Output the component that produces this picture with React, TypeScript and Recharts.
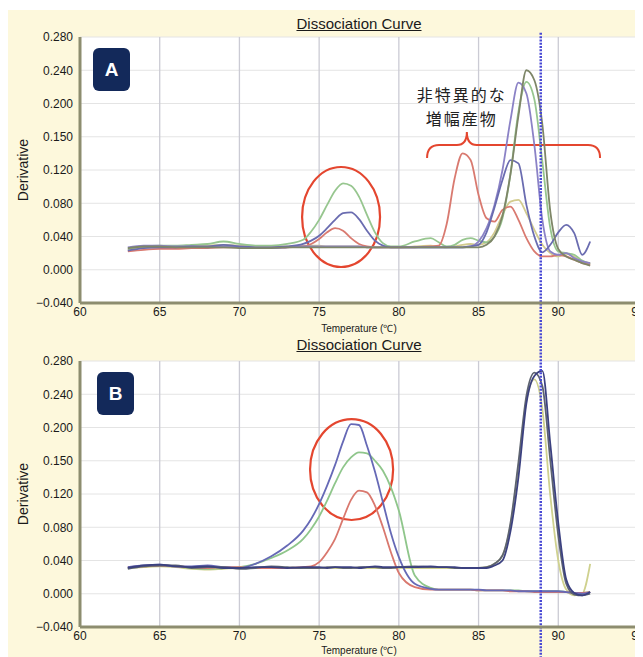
import { LineChart, Line, XAxis, YAxis, CartesianGrid, ReferenceLine, ReferenceArea } from "recharts";

// melt temperatures (°C), shared by every series of a panel
const temps = [
  63, 64, 65, 66, 67, 68, 69, 70, 71, 72, 73, 74,
  74.5, 75, 75.5, 76, 76.5, 77, 77.5, 78, 78.5, 79, 79.5, 80,
  81, 82,
  82.5, 83, 83.5, 84, 84.5, 85, 85.5, 86, 86.5, 87, 87.5, 88, 88.5, 89, 89.5, 90, 90.5, 91, 91.5, 92,
];

const xTicks = [60, 65, 70, 75, 80, 85, 90, 95];
const yTicks = [-0.04, 0, 0.04, 0.08, 0.12, 0.16, 0.2, 0.24, 0.28];
const yTickLabels = ["−0.040", "0.000", "0.040", "0.080", "0.120", "0.150", "0.200", "0.240", "0.280"];

// panel A
const tanA = [
  0.024, 0.027, 0.028, 0.028, 0.029, 0.029, 0.030, 0.029, 0.028, 0.028, 0.028, 0.029,
  0.029, 0.029, 0.028, 0.028, 0.028, 0.028, 0.028, 0.027, 0.027, 0.027, 0.027, 0.027,
  0.028, 0.029,
  0.028, 0.027, 0.028, 0.030, 0.031, 0.030, 0.033, 0.045, 0.066, 0.082, 0.084, 0.068, 0.048, 0.030, 0.020, 0.016, 0.019, 0.016, 0.010, 0.008,
];
const greenA = [
  0.025, 0.028, 0.029, 0.029, 0.030, 0.031, 0.034, 0.031, 0.029, 0.029, 0.031, 0.036,
  0.046, 0.060, 0.078, 0.095, 0.104, 0.101, 0.088, 0.066, 0.045, 0.032, 0.028, 0.028,
  0.034, 0.038,
  0.033, 0.028, 0.030, 0.036, 0.038, 0.035, 0.033, 0.040, 0.062, 0.115, 0.190, 0.226, 0.205, 0.130, 0.050, 0.022, 0.020, 0.018, 0.011, 0.007,
];
const redA = [
  0.022, 0.024, 0.025, 0.025, 0.026, 0.026, 0.027, 0.027, 0.026, 0.026, 0.027, 0.028,
  0.031, 0.037, 0.045, 0.050, 0.047, 0.038, 0.031, 0.028, 0.027, 0.027, 0.027, 0.027,
  0.027, 0.028,
  0.029, 0.055, 0.110, 0.140, 0.132, 0.090, 0.062, 0.058, 0.072, 0.076, 0.060, 0.038, 0.022, 0.016, 0.016, 0.018, 0.016, 0.012, 0.008, 0.006,
];
const purpleA = [
  0.027, 0.029, 0.029, 0.028, 0.028, 0.027, 0.028, 0.027, 0.026, 0.026, 0.027, 0.028,
  0.028, 0.028, 0.028, 0.028, 0.028, 0.028, 0.028, 0.027, 0.027, 0.027, 0.027, 0.027,
  0.027, 0.027,
  0.027, 0.027, 0.027, 0.027, 0.028, 0.034, 0.050, 0.078, 0.120, 0.180, 0.225, 0.212, 0.150, 0.060, 0.022, 0.018, 0.020, 0.014, 0.010, 0.008,
];
const blueA = [
  0.023, 0.026, 0.027, 0.027, 0.028, 0.028, 0.030, 0.028, 0.027, 0.027, 0.028, 0.031,
  0.035, 0.041, 0.050, 0.060, 0.068, 0.069, 0.061, 0.047, 0.035, 0.029, 0.027, 0.027,
  0.027, 0.027,
  0.027, 0.027, 0.027, 0.027, 0.028, 0.030, 0.045, 0.075, 0.108, 0.132, 0.128, 0.078, 0.040, 0.021, 0.030, 0.045, 0.054, 0.044, 0.018, 0.034,
];
const oliveA = [
  0.026, 0.028, 0.028, 0.027, 0.027, 0.027, 0.027, 0.026, 0.026, 0.026, 0.027, 0.027,
  0.027, 0.027, 0.027, 0.027, 0.027, 0.027, 0.027, 0.027, 0.027, 0.027, 0.027, 0.027,
  0.027, 0.027,
  0.027, 0.027, 0.027, 0.027, 0.027, 0.027, 0.030, 0.040, 0.065, 0.115, 0.185, 0.240, 0.228, 0.175, 0.070, 0.025, 0.016, 0.012, 0.008, 0.005,
];

// panel B
const yellowB = [
  0.031, 0.032, 0.033, 0.032, 0.030, 0.029, 0.030, 0.031, 0.031, 0.031, 0.031, 0.031,
  0.031, 0.031, 0.031, 0.031, 0.031, 0.031, 0.031, 0.031, 0.031, 0.031, 0.031, 0.031,
  0.031, 0.031,
  0.031, 0.031, 0.031, 0.031, 0.031, 0.031, 0.032, 0.036, 0.046, 0.082, 0.152, 0.232, 0.258, 0.222, 0.118, 0.040, 0.005, -0.002, 0.000, 0.036,
];
const greenB = [
  0.031, 0.033, 0.034, 0.033, 0.031, 0.030, 0.031, 0.032, 0.036, 0.043, 0.052, 0.066,
  0.078, 0.093, 0.112, 0.133, 0.152, 0.164, 0.170, 0.169, 0.160, 0.148, 0.128, 0.100,
  0.022, 0.007,
  0.005, 0.005, 0.005, 0.005, 0.005, 0.004, 0.004, 0.004, 0.004, 0.004, 0.004, 0.003, 0.003, 0.003, 0.003, 0.003, 0.002, 0.001, 0.001, 0.002,
];
const redB = [
  0.032, 0.033, 0.034, 0.033, 0.032, 0.031, 0.032, 0.032, 0.031, 0.031, 0.031, 0.032,
  0.033, 0.038, 0.050, 0.066, 0.090, 0.113, 0.124, 0.122, 0.106, 0.080, 0.050, 0.025,
  0.008, 0.005,
  0.005, 0.005, 0.005, 0.005, 0.005, 0.004, 0.004, 0.004, 0.004, 0.003, 0.003, 0.003, 0.002, 0.002, 0.002, 0.002, 0.002, 0.001, 0.001, 0.002,
];
const blueB = [
  0.032, 0.034, 0.035, 0.033, 0.033, 0.034, 0.032, 0.031, 0.036, 0.045, 0.058, 0.076,
  0.090, 0.108, 0.130, 0.155, 0.183, 0.204, 0.203, 0.178, 0.147, 0.110, 0.073, 0.044,
  0.012, 0.006,
  0.005, 0.005, 0.005, 0.005, 0.005, 0.005, 0.004, 0.004, 0.004, 0.004, 0.003, 0.003, 0.003, 0.003, 0.003, 0.003, 0.002, 0.001, 0.000, 0.002,
];
const grayB = [
  0.030, 0.033, 0.034, 0.034, 0.031, 0.032, 0.032, 0.030, 0.031, 0.033, 0.032, 0.031,
  0.031, 0.031, 0.032, 0.032, 0.031, 0.031, 0.032, 0.032, 0.032, 0.031, 0.031, 0.032,
  0.033, 0.032,
  0.032, 0.032, 0.031, 0.031, 0.031, 0.031, 0.032, 0.036, 0.046, 0.085, 0.158, 0.238, 0.266, 0.250, 0.160, 0.070, 0.012, -0.001, -0.002, 0.000,
];
const navyB = [
  0.031, 0.034, 0.035, 0.033, 0.032, 0.033, 0.031, 0.031, 0.032, 0.032, 0.031, 0.032,
  0.032, 0.032, 0.031, 0.032, 0.032, 0.032, 0.031, 0.032, 0.033, 0.032, 0.032, 0.032,
  0.032, 0.033,
  0.032, 0.032, 0.032, 0.031, 0.031, 0.031, 0.031, 0.034, 0.040, 0.075, 0.140, 0.229, 0.262, 0.268, 0.180, 0.085, 0.017, 0.001, -0.002, 0.002,
];

const seriesA = [
  { key: "tanA", color: "#d2cb8e", values: tanA },
  { key: "greenA", color: "#97c68f", values: greenA },
  { key: "redA", color: "#d97a70", values: redA },
  { key: "purpleA", color: "#8b82c6", values: purpleA },
  { key: "blueA", color: "#6a6cb0", values: blueA },
  { key: "oliveA", color: "#7e8668", values: oliveA },
];
const seriesB = [
  { key: "yellowB", color: "#cfd18e", values: yellowB },
  { key: "greenB", color: "#8fc68b", values: greenB },
  { key: "redB", color: "#d9786e", values: redB },
  { key: "blueB", color: "#6669b6", values: blueB },
  { key: "grayB", color: "#5e6470", values: grayB },
  { key: "navyB", color: "#3c4180", values: navyB },
];

const markerTemp = 88.9;

const FONT = "'Liberation Sans', Arial, sans-serif";
const CREAM = "#fdf8dc";
const RED = "#e4462f";

function toRows(series: { key: string; values: number[] }[]) {
  return temps.map((t, i) => {
    const row: Record<string, number> = { t };
    series.forEach((s) => (row[s.key] = s.values[i]));
    return row;
  });
}

function Ellipse(props: any) {
  const { x, y, width, height } = props;
  return (
    <ellipse
      cx={x + width / 2}
      cy={y + height / 2}
      rx={width / 2}
      ry={height / 2}
      fill="none"
      stroke={RED}
      strokeWidth={2.2}
    />
  );
}

function Brace(props: any) {
  const { x, y, width, height } = props;
  const tip = x + width * 0.23;
  const mid = y + height * 0.5;
  const r = 12;
  const d = `M${x},${y + height} Q${x},${mid} ${x + r},${mid} L${tip - 10},${mid} Q${tip},${mid} ${tip},${y} Q${tip},${mid} ${tip + 10},${mid} L${x + width - r},${mid} Q${x + width},${mid} ${x + width},${y + height}`;
  const jp = {
    textAnchor: "middle" as const,
    fontSize: 16,
    letterSpacing: 2,
    fill: "#222",
    fontFamily: "'Noto Sans CJK JP', sans-serif",
  };
  return (
    <g>
      <path d={d} fill="none" stroke={RED} strokeWidth={2} />
      <text x={tip - 5} y={y - 31} {...jp}>非特異的な</text>
      <text x={tip - 5} y={y - 7} {...jp}>増幅産物</text>
    </g>
  );
}

function Panel({
  series,
  height,
  top,
  xAxisHeight,
  titleGap,
  circle,
  brace,
  lineTop,
  lineBottom,
}: {
  series: { key: string; color: string; values: number[] }[];
  height: number;
  top: number;
  xAxisHeight: number;
  titleGap: number;
  circle: number[];
  brace?: number[];
  lineTop: number;
  lineBottom: number;
}) {
  const data = toRows(series);
  return (
    <LineChart width={635} height={height} data={data} margin={{ top, right: 5, bottom: 0, left: 0 }}>
      <CartesianGrid vertical={false} stroke="#e4e4e4" fill="#ffffff" />
      <CartesianGrid horizontal={false} stroke="#cbcbd4" strokeWidth={1.3} />
      <XAxis
        type="number"
        dataKey="t"
        domain={[60, 95]}
        ticks={xTicks}
        interval={0}
        height={xAxisHeight}
        tickLine={false}
        tickSize={4}
        tickMargin={0}
        axisLine={{ stroke: "#8d8d6f", strokeWidth: 3 }}
        tick={{ fontSize: 12, fill: "#1a1a1a", fontFamily: FONT }}
        label={(p: any) => (
          <text
            x={p.viewBox.x + p.viewBox.width / 2}
            y={p.viewBox.y + titleGap}
            textAnchor="middle"
            fontSize={10}
            fill="#1a1a1a"
            fontFamily={FONT}
          >
            Temperature (℃)
          </text>
        )}
      />
      <YAxis
        type="number"
        domain={[-0.04, 0.28]}
        ticks={yTicks}
        interval={0}
        allowDataOverflow
        width={72}
        tickLine={false}
        tickSize={6}
        tickMargin={1}
        axisLine={{ stroke: "#8d8d6f", strokeWidth: 3 }}
        tick={{ fontSize: 12, fill: "#1a1a1a", fontFamily: FONT }}
        tickFormatter={(v: number) => yTickLabels[yTicks.indexOf(v)] ?? String(v)}
        label={(p: any) => {
          const cy = p.viewBox.y + p.viewBox.height / 2;
          return (
            <text
              x={15}
              y={cy}
              transform={`rotate(-90 15 ${cy})`}
              textAnchor="middle"
              dominantBaseline="central"
              fontSize={14}
              fill="#1a1a1a"
              fontFamily={FONT}
            >
              Derivative
            </text>
          );
        }}
      />
      {series.map((s) => (
        <Line
          key={s.key}
          type="monotone"
          dataKey={s.key}
          stroke={s.color}
          strokeWidth={1.8}
          dot={false}
          isAnimationActive={false}
        />
      ))}
      <ReferenceArea x1={circle[0]} x2={circle[1]} y1={circle[2]} y2={circle[3]} shape={<Ellipse />} />
      {brace && <ReferenceArea x1={brace[0]} x2={brace[1]} y1={brace[2]} y2={brace[3]} shape={<Brace />} />}
      <ReferenceLine
        segment={[
          { x: markerTemp, y: lineTop },
          { x: markerTemp, y: lineBottom },
        ]}
        stroke="#4848d4"
        strokeWidth={2.5}
        strokeDasharray="2 1.3"
        ifOverflow="visible"
      />
    </LineChart>
  );
}

function Badge({ letter, left, top }: { letter: string; left: number; top: number }) {
  return (
    <div
      style={{
        position: "absolute",
        left,
        top,
        width: 37,
        height: 43,
        borderRadius: 6,
        background: "#13295a",
        color: "#fff",
        fontFamily: FONT,
        fontWeight: 700,
        fontSize: 19,
        display: "flex",
        alignItems: "center",
        justifyContent: "center",
      }}
    >
      {letter}
    </div>
  );
}

function Title({ top }: { top: number }) {
  return (
    <div
      style={{
        position: "absolute",
        left: 72,
        width: 558,
        top,
        textAlign: "center",
        fontFamily: FONT,
        fontSize: 15,
        lineHeight: "16px",
        color: "#1a1a1a",
        textDecoration: "underline",
      }}
    >
      Dissociation Curve
    </div>
  );
}

export default function App() {
  return (
    <div style={{ position: "relative", width: 635, height: 647, marginTop: 2, background: CREAM }}>
      <div style={{ position: "absolute", left: 0, top: 0 }}>
        <Panel
          series={seriesA}
          height={330}
          top={27}
          xAxisHeight={37}
          titleGap={28.5}
          circle={[73.93, 78.82, 0.1236, 0.0033]}
          brace={[81.77, 92.62, 0.1657, 0.1344]}
          lineTop={0.285}
          lineBottom={-0.15}
        />
      </div>
      <div style={{ position: "absolute", left: 0, top: 330 }}>
        <Panel
          series={seriesB}
          height={317}
          top={21}
          xAxisHeight={30}
          titleGap={26.5}
          circle={[74.43, 79.64, 0.21, 0.0887]}
          lineTop={0.31}
          lineBottom={-0.1}
        />
      </div>
      <Title top={6} />
      <Title top={327} />
      <Badge letter="A" left={85} top={38} />
      <Badge letter="B" left={89} top={362} />
    </div>
  );
}
